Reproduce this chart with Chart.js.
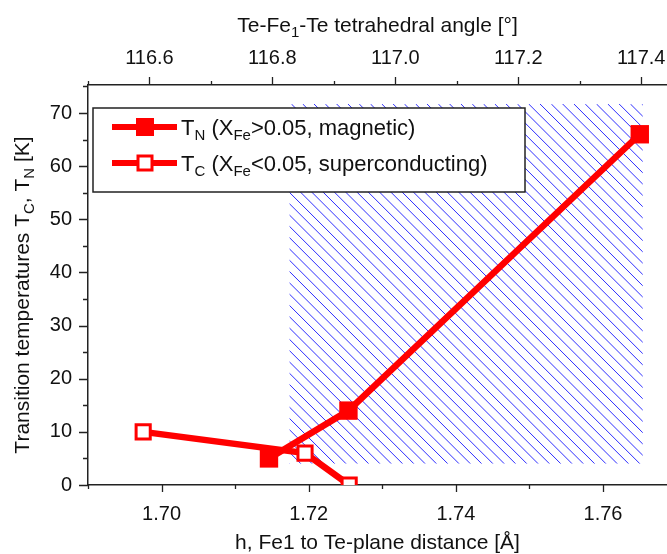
<!DOCTYPE html>
<html>
<head>
<meta charset="utf-8">
<script src="https://cdn.jsdelivr.net/npm/chart.js@4"></script>
<style>
  html, body { margin: 0; padding: 0; background: #fff; }
  #wrap { width: 667px; height: 554px; }
</style>
</head>
<body>
<div id="wrap"><canvas id="chart" width="667" height="554"></canvas></div>
<script>
// T_N, magnetic samples (filled squares)
const hN = [1.7146, 1.7254, 1.7650];
const tN = [5, 14, 66];
// T_C, superconducting samples (open squares)
const hC = [1.6975, 1.7195, 1.7255];
const tC = [10, 6, 0];
// hatched region
const hatchH = [1.7174, 1.7654];
const hatchT = [4, 71.7];

const hTicks = [1.70, 1.72, 1.74, 1.76];
const hMinor = [1.69, 1.71, 1.73, 1.75];
const angleTicks = [116.6, 116.8, 117.0, 117.2, 117.4];
const angleMinor = [116.5, 116.7, 116.9, 117.1, 117.3];
const tempTicks = [0, 10, 20, 30, 40, 50, 60, 70];
const tempMinor = [5, 15, 25, 35, 45, 55, 65, 75];

const FONT = '"Liberation Sans", Arial, sans-serif';
const RED = '#ff0000';

function toPoints(xs, ys) {
  return xs.map((x, i) => ({ x, y: ys[i] }));
}

// text with subscripts: parts = [[text, isSub], ...]
function richWidth(ctx, parts, size) {
  let w = 0;
  parts.forEach(([t, sub]) => {
    ctx.font = (sub ? 15 : size) + 'px ' + FONT;
    w += ctx.measureText(t).width;
  });
  return w;
}
function drawRich(ctx, parts, x, y, align, size = 21) {
  let cx = align === 'center' ? x - richWidth(ctx, parts, size) / 2 : x;
  ctx.textAlign = 'left';
  ctx.textBaseline = 'alphabetic';
  parts.forEach(([t, sub]) => {
    ctx.font = (sub ? 15 : size) + 'px ' + FONT;
    ctx.fillText(t, cx, sub ? y + 5 : y);
    cx += ctx.measureText(t).width;
  });
}

const extras = {
  id: 'extras',
  beforeDatasetsDraw(chart) {
    const { ctx, scales } = chart;
    const x1 = scales.x.getPixelForValue(hatchH[0]);
    const x2 = scales.x.getPixelForValue(hatchH[1]);
    const y1 = scales.y.getPixelForValue(hatchT[1]);
    const y2 = scales.y.getPixelForValue(hatchT[0]);
    const h = y2 - y1;
    ctx.save();
    ctx.beginPath();
    ctx.rect(x1, y1, x2 - x1, h);
    ctx.clip();
    ctx.strokeStyle = '#2e2eff';
    ctx.lineWidth = 1;
    ctx.beginPath();
    for (let sx = x1 - h; sx < x2; sx += 11.3) {
      ctx.moveTo(sx, y1);
      ctx.lineTo(sx + h, y2);
    }
    ctx.stroke();
    ctx.restore();
  },
  afterDatasetsDraw(chart) {
    const { ctx } = chart;
    // legend
    ctx.save();
    ctx.fillStyle = '#fff';
    ctx.fillRect(93, 108, 432, 84);
    ctx.strokeStyle = '#222';
    ctx.lineWidth = 1.5;
    ctx.strokeRect(93, 108, 432, 84);
    const rows = [127, 163];
    rows.forEach((ry, i) => {
      ctx.strokeStyle = RED;
      ctx.lineWidth = 6;
      ctx.beginPath();
      ctx.moveTo(112, ry);
      ctx.lineTo(177, ry);
      ctx.stroke();
      if (i === 0) {
        ctx.fillStyle = RED;
        ctx.fillRect(136, ry - 9, 18, 18);
      } else {
        ctx.fillStyle = '#fff';
        ctx.fillRect(138, ry - 7, 14, 14);
        ctx.lineWidth = 3;
        ctx.strokeRect(138, ry - 7, 14, 14);
      }
    });
    ctx.fillStyle = '#111';
    drawRich(ctx, [['T', false], ['N', true], [' (X', false], ['Fe', true], ['>0.05, magnetic)', false]], 181, 135, 'left', 22);
    drawRich(ctx, [['T', false], ['C', true], [' (X', false], ['Fe', true], ['<0.05, superconducting)', false]], 181, 171, 'left', 22);
    ctx.restore();
  },
  afterDraw(chart) {
    const { ctx, scales, chartArea } = chart;
    ctx.save();
    ctx.strokeStyle = '#222';
    ctx.lineWidth = 1.3;
    ctx.beginPath();
    const tickY = (vals, len) => vals.forEach(v => {
      const p = Math.round(scales.y.getPixelForValue(v)) + 0.5;
      ctx.moveTo(chartArea.left - len, p);
      ctx.lineTo(chartArea.left, p);
    });
    const tickX = (vals, len) => vals.forEach(v => {
      const p = Math.round(scales.x.getPixelForValue(v)) + 0.5;
      ctx.moveTo(p, chartArea.bottom);
      ctx.lineTo(p, chartArea.bottom + len);
    });
    const tickTop = (vals, len) => vals.forEach(v => {
      const p = Math.round(scales.x2.getPixelForValue(v)) + 0.5;
      ctx.moveTo(p, chartArea.top);
      ctx.lineTo(p, chartArea.top - len);
    });
    tickY(tempTicks, 9); tickY(tempMinor, 5);
    tickX(hTicks, 7); tickX(hMinor, 4);
    tickTop(angleTicks, 8); tickTop(angleMinor, 4);
    ctx.stroke();

    // axis titles
    ctx.fillStyle = '#111';
    const midX = (chartArea.left + chartArea.right) / 2;
    drawRich(ctx, [['Te-Fe', false], ['1', true], ['-Te tetrahedral angle [°]', false]], midX, 32, 'center');
    drawRich(ctx, [['h, Fe1 to Te-plane distance [Å]', false]], midX, 549, 'center');
    ctx.translate(29, 295);
    ctx.rotate(-Math.PI / 2);
    drawRich(ctx, [['Transition temperatures T', false], ['C', true], [', T', false], ['N', true], [' [K]', false]], 0, 0, 'center');
    ctx.restore();
  }
};

const tickFont = { family: FONT, size: 20 };
const noPad = s => { s.paddingLeft = 0; s.paddingRight = 0; s.paddingTop = 0; s.paddingBottom = 0; };

new Chart(document.getElementById('chart'), {
  type: 'line',
  data: {
    datasets: [
      {
        label: 'T_C (X_Fe<0.05, superconducting)',
        data: toPoints(hC, tC),
        order: 0,
        borderColor: RED,
        borderWidth: 6.5,
        pointStyle: 'rect',
        pointRadius: 10,
        pointBorderWidth: 3,
        pointBackgroundColor: '#fff',
        pointBorderColor: RED,
        xAxisID: 'x',
        yAxisID: 'y'
      },
      {
        label: 'T_N (X_Fe>0.05, magnetic)',
        data: toPoints(hN, tN),
        order: 1,
        borderColor: RED,
        borderWidth: 6.5,
        pointStyle: 'rect',
        pointRadius: 13,
        pointBorderWidth: 0,
        pointBackgroundColor: RED,
        pointBorderColor: RED,
        xAxisID: 'x',
        yAxisID: 'y'
      }
    ]
  },
  options: {
    responsive: false,
    animation: false,
    layout: { padding: 0, autoPadding: false },
    plugins: { legend: { display: false }, tooltip: { enabled: false } },
    scales: {
      x: {
        type: 'linear',
        position: 'bottom',
        min: 1.69,
        max: 1.7687,
        afterBuildTicks: s => { s.ticks = hTicks.map(v => ({ value: v })); },
        afterFit: s => { s.height = 69; noPad(s); },
        grid: { display: false, drawTicks: false },
        border: { display: true, color: '#222', width: 1.5 },
        ticks: { padding: 17, color: '#111', font: tickFont, maxRotation: 0, callback: v => v.toFixed(2) }
      },
      x2: {
        type: 'linear',
        position: 'top',
        display: true,
        min: 116.5,
        max: 117.442,
        afterBuildTicks: s => { s.ticks = angleTicks.map(v => ({ value: v })); },
        afterFit: s => { s.height = 85; noPad(s); },
        grid: { display: false, drawTicks: false },
        border: { display: true, color: '#222', width: 1.5 },
        ticks: { padding: 15, color: '#111', font: tickFont, maxRotation: 0, callback: v => v.toFixed(1) }
      },
      y: {
        type: 'linear',
        position: 'left',
        min: 0,
        max: 75.27,
        afterBuildTicks: s => { s.ticks = tempTicks.map(v => ({ value: v })); },
        afterFit: s => { s.width = 88; noPad(s); },
        grid: { display: false, drawTicks: false },
        border: { display: true, color: '#222', width: 1.5 },
        ticks: { padding: 16, color: '#111', font: tickFont, callback: v => String(v) }
      }
    }
  },
  plugins: [extras]
});
</script>
</body>
</html>
